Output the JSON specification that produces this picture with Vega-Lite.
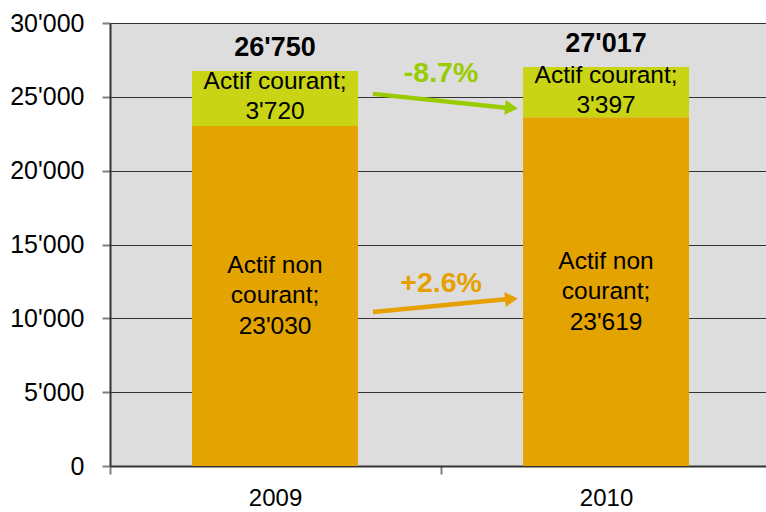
{
  "$schema": "https://vega.github.io/schema/vega-lite/v6.json",
  "width": 656,
  "height": 443,
  "autosize": "none",
  "padding": {"left": 110, "top": 23, "right": 0, "bottom": 46},
  "background": "white",
  "config": {
    "view": {"fill": "#DDDDDD", "stroke": null},
    "font": "Liberation Sans",
    "text": {"font": "Liberation Sans"}
  },
  "datasets": {
    "bars": [
      {"year": "2009", "part": "Actif non courant", "order": 1, "value": 23030},
      {"year": "2009", "part": "Actif courant", "order": 2, "value": 3720},
      {"year": "2010", "part": "Actif non courant", "order": 1, "value": 23619.4},
      {"year": "2010", "part": "Actif courant", "order": 2, "value": 3397.4}
    ],
    "arrows": [
      {"from": "2009", "to": "2010", "series": "courant", "start": 25200, "end": 24250, "change": "-8.7%", "labelValue": 26614},
      {"from": "2009", "to": "2010", "series": "non courant", "start": 10430, "end": 11310, "change": "+2.6%", "labelValue": 12393}
    ]
  },
  "resolve": {"scale": {"color": "independent"}},
  "layer": [
    {
      "data": {"name": "bars"},
      "mark": {"type": "bar"},
      "encoding": {
        "x": {
          "field": "year", "type": "nominal", "title": null,
          "scale": {"paddingInner": 0.4985, "paddingOuter": 0.2402, "align": 0.516},
          "axis": {
            "orient": "bottom", "labelAngle": 0, "labelFontSize": 24, "labelColor": "#000000",
            "labelPadding": 12, "domainColor": "#333333", "domainWidth": 2,
            "tickOffset": -165.5, "labelOffset": 165.5,
            "tickColor": "#808080", "tickSize": 8, "tickWidth": 2, "grid": false
          }
        },
        "y": {
          "field": "value", "type": "quantitative", "stack": "zero", "title": null,
          "scale": {"domain": [0, 30000], "nice": false},
          "axis": {
            "values": [0, 5000, 10000, 15000, 20000, 25000, 30000],
            "labelExpr": "replace(format(datum.value, ','), ',', \"'\")",
            "labelFontSize": 25, "labelColor": "#000000", "labelPadding": 18,
            "domainColor": "#333333", "domainWidth": 2,
            "tickColor": "#808080", "tickSize": 8, "tickWidth": 2,
            "grid": true, "gridColor": "#333333", "gridWidth": 1.2, "gridOpacity": 1
          }
        },
        "color": {
          "field": "part", "type": "nominal", "legend": null,
          "scale": {"domain": ["Actif non courant", "Actif courant"], "range": ["#E3A300", "#C8D414"]}
        },
        "order": {"field": "order", "type": "quantitative"}
      }
    },
    {
      "data": {"name": "bars"},
      "transform": [
        {"stack": "value", "groupby": ["year"], "sort": [{"field": "order"}], "as": ["v0", "v1"]},
        {"calculate": "(datum.v0 + datum.v1) / 2", "as": "mid"},
        {"calculate": "'Actif courant;\\n' + replace(format(datum.value, ',.0f'), ',', \"'\")", "as": "label"},
        {"filter": "datum.part == 'Actif courant'"}
      ],
      "mark": {"type": "text", "fontSize": 24.5, "lineBreak": "\n", "lineHeight": 30, "dy": -16, "color": "#000000", "align": "center", "baseline": "middle"},
      "encoding": {
        "x": {"field": "year", "type": "nominal", "title": null},
        "y": {"field": "mid", "type": "quantitative", "title": null},
        "text": {"field": "label"}
      }
    },
    {
      "data": {"name": "bars"},
      "transform": [
        {"stack": "value", "groupby": ["year"], "sort": [{"field": "order"}], "as": ["v0", "v1"]},
        {"calculate": "(datum.v0 + datum.v1) / 2", "as": "mid"},
        {"calculate": "'Actif non\\ncourant;\\n' + replace(format(datum.value, ',.0f'), ',', \"'\")", "as": "label"},
        {"filter": "datum.part == 'Actif non courant'"}
      ],
      "mark": {"type": "text", "fontSize": 24.5, "lineBreak": "\n", "lineHeight": 30.5, "dy": -30, "color": "#000000", "align": "center", "baseline": "middle"},
      "encoding": {
        "x": {"field": "year", "type": "nominal", "title": null},
        "y": {"field": "mid", "type": "quantitative", "title": null},
        "text": {"field": "label"}
      }
    },
    {
      "data": {"name": "bars"},
      "transform": [
        {"aggregate": [{"op": "sum", "field": "value", "as": "total"}], "groupby": ["year"]},
        {"calculate": "replace(format(datum.total, ',.0f'), ',', \"'\")", "as": "label"}
      ],
      "mark": {"type": "text", "fontSize": 27, "fontWeight": "bold", "baseline": "alphabetic", "dy": -15, "color": "#000000"},
      "encoding": {
        "x": {"field": "year", "type": "nominal", "title": null},
        "y": {"field": "total", "type": "quantitative", "title": null},
        "text": {"field": "label"}
      }
    },
    {
      "data": {"name": "arrows"},
      "mark": {"type": "rule", "strokeWidth": 4.5},
      "encoding": {
        "x": {"field": "from", "type": "nominal", "bandPosition": 1.09, "title": null},
        "x2": {"field": "to", "bandPosition": -0.09},
        "y": {"field": "start", "type": "quantitative", "title": null},
        "y2": {"field": "end"},
        "color": {
          "field": "series", "type": "nominal", "legend": null,
          "scale": {"domain": ["courant", "non courant"], "range": ["#99CC00", "#E6A000"]}
        }
      }
    },
    {
      "data": {"name": "arrows"},
      "transform": [{"filter": "datum.series == 'courant'"}],
      "mark": {"type": "point", "shape": "triangle-right", "filled": true, "size": 220, "angle": 5.6, "color": "#99CC00", "opacity": 1},
      "encoding": {
        "x": {"field": "to", "type": "nominal", "bandPosition": -0.07, "title": null},
        "y": {"field": "end", "type": "quantitative", "title": null}
      }
    },
    {
      "data": {"name": "arrows"},
      "transform": [{"filter": "datum.series == 'non courant'"}],
      "mark": {"type": "point", "shape": "triangle-right", "filled": true, "size": 220, "angle": -5.1, "color": "#E6A000", "opacity": 1},
      "encoding": {
        "x": {"field": "to", "type": "nominal", "bandPosition": -0.07, "title": null},
        "y": {"field": "end", "type": "quantitative", "title": null}
      }
    },
    {
      "data": {"name": "arrows"},
      "mark": {"type": "text", "fontSize": 28.5, "fontWeight": "bold", "align": "center", "baseline": "middle"},
      "encoding": {
        "x": {"field": "from", "type": "nominal", "bandPosition": 1.5, "title": null},
        "y": {"field": "labelValue", "type": "quantitative", "title": null},
        "text": {"field": "change"},
        "color": {
          "field": "series", "type": "nominal", "legend": null,
          "scale": {"domain": ["courant", "non courant"], "range": ["#99CC00", "#E6A000"]}
        }
      }
    }
  ]
}
